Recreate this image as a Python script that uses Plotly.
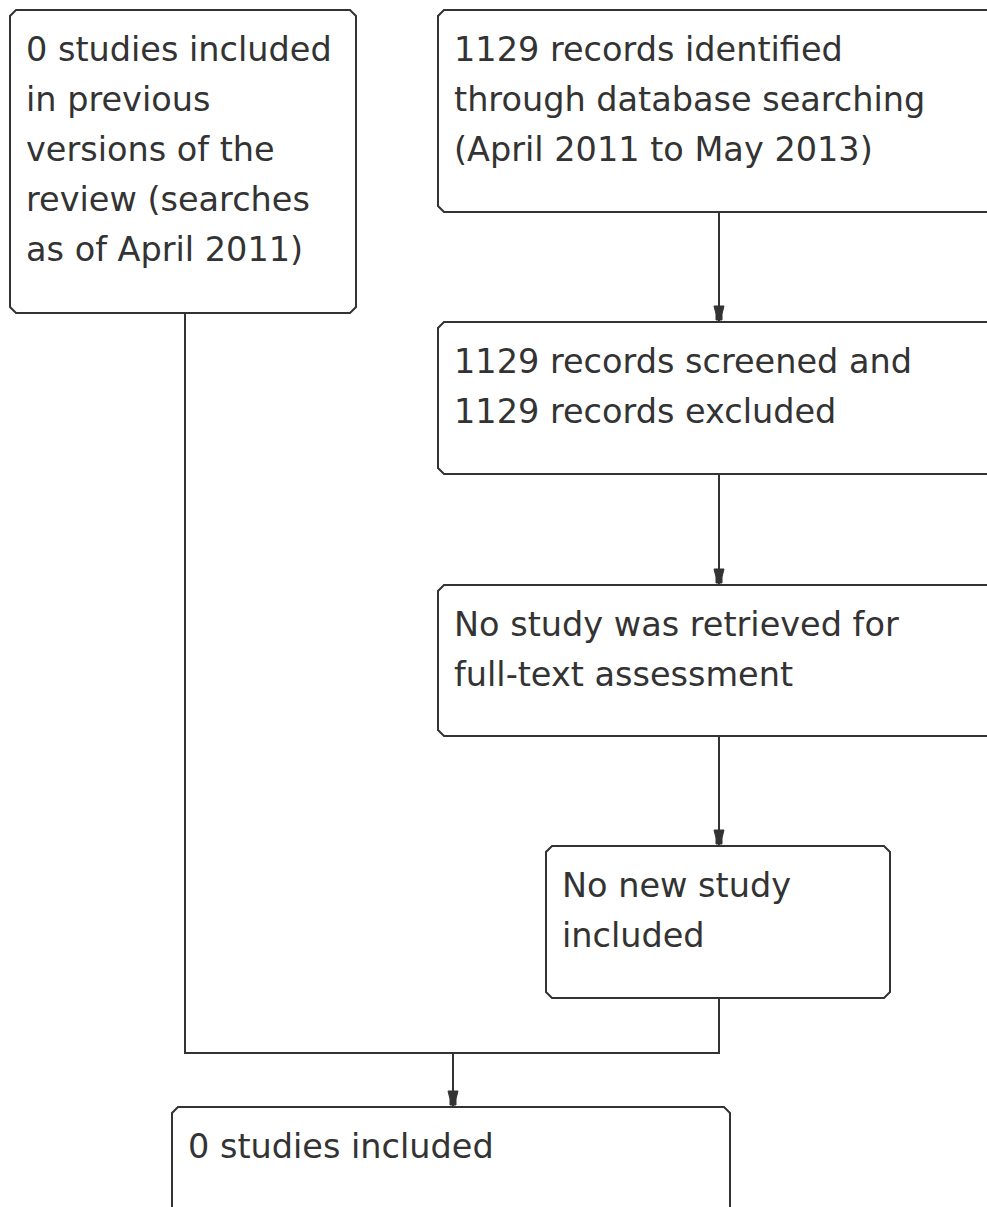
import plotly.graph_objects as go

# ---- data -------------------------------------------------------------
box_texts = [
    "0 studies included\nin previous\nversions of the\nreview (searches\nas of April 2011)",
    "1129 records identified\nthrough database searching\n(April 2011 to May 2013)",
    "1129 records screened and\n1129 records excluded",
    "No study was retrieved for\nfull-text assessment",
    "No new study\nincluded",
    "0 studies included",
]
box_left = [10, 438, 438, 438, 546, 172]
box_right = [356, 1010, 1010, 1010, 890, 730]
box_top = [10, 10, 322, 585, 846, 1107]
box_bottom = [313, 212, 474, 736, 998, 1240]

# connector polylines (x list, y list) and whether they end with an arrow
conn_x = [[719, 719], [719, 719], [719, 719], [185, 185, 719, 719], [453, 453]]
conn_y = [[212, 322], [474, 585], [736, 846], [313, 1053, 1053, 998], [1053, 1107]]
conn_arrow = [True, True, True, False, True]

W, H = 987, 1207
LINE = "#333333"
TEXT = "#333333"
CH = 6  # chamfer

fig = go.Figure()
shapes = []
annotations = []

for t, l, r, tp, b in zip(box_texts, box_left, box_right, box_top, box_bottom):
    path = (f"M {l+CH},{tp} L {r-CH},{tp} L {r},{tp+CH} L {r},{b-CH} L {r-CH},{b} "
            f"L {l+CH},{b} L {l},{b-CH} L {l},{tp+CH} Z")
    shapes.append(dict(type="path", path=path, xref="x", yref="y",
                       line=dict(color=LINE, width=2), fillcolor="white", layer="below"))
    for i, line in enumerate(t.split("\n")):
        annotations.append(dict(x=l + 14, y=tp + 39 + 50 * i, xref="x", yref="y",
                                text=line, showarrow=False, xanchor="left", yanchor="middle",
                                font=dict(family="DejaVu Sans", size=33.5, color=TEXT)))

for xs, ys, arr in zip(conn_x, conn_y, conn_arrow):
    fig.add_trace(go.Scatter(x=xs, y=ys, mode="lines", line=dict(color=LINE, width=2),
                             hoverinfo="skip", showlegend=False))
    if arr:
        x, t = xs[-1], ys[-1]
        path = (f"M {x-5},{t-16} L {x+5},{t-16} L {x+3},{t-8} L {x+3},{t-2} "
                f"L {x-3},{t-2} L {x-3},{t-8} Z")
        shapes.append(dict(type="path", path=path, xref="x", yref="y",
                           line=dict(color=LINE, width=1), fillcolor=LINE))

fig.update_layout(
    width=W, height=H, margin=dict(l=0, r=0, t=0, b=0),
    paper_bgcolor="white", plot_bgcolor="white",
    shapes=shapes, annotations=annotations, showlegend=False,
    xaxis=dict(range=[0, W], visible=False, fixedrange=True),
    yaxis=dict(range=[H, 0], visible=False, fixedrange=True),
)
fig.write_html("out.html", config={"displayModeBar": False},
               post_script="document.body.style.margin='0';")
